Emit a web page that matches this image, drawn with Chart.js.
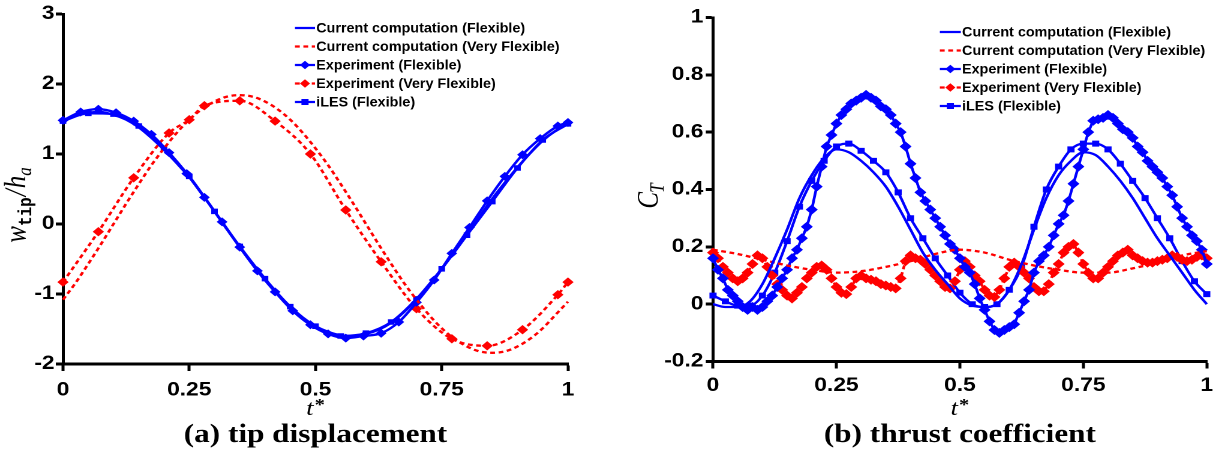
<!DOCTYPE html>
<html>
<head>
<meta charset="utf-8">
<script src="https://cdn.jsdelivr.net/npm/chart.js@4.4.1/dist/chart.umd.min.js"></script>
<style>
  html, body { margin: 0; padding: 0; background: #fff; }
  body { width: 1225px; height: 453px; position: relative; overflow: hidden; }
  #tipChart { position: absolute; left: 0; top: 0; }
  #thrustChart { position: absolute; left: 612px; top: 0; }
</style>
</head>
<body>
<!-- the original figure is stretched sideways, so each chart is drawn narrow and widened by css -->
<canvas id="tipChart" width="510" height="453" style="width:612px;height:453px"></canvas>
<canvas id="thrustChart" width="511" height="453" style="width:613px;height:453px"></canvas>
<script>
///////////////////////////////////////////////////////////
// DATA

const legendLabels = [
  "Current computation (Flexible)",
  "Current computation (Very Flexible)",
  "Experiment (Flexible)",
  "Experiment (Very Flexible)",
  "iLES (Flexible)",
];

const xTickValues = [0, 0.25, 0.5, 0.75, 1];
const xTickLabels = ["0", "0.25", "0.5", "0.75", "1"];
const tipTickValues = [-2, -1, 0, 1, 2, 3];
const tipTickLabels = ["-2", "-1", "0", "1", "2", "3"];
const thrustTickValues = [-0.2, 0, 0.2, 0.4, 0.6, 0.8, 1];
const thrustTickLabels = ["-0.2", "0", "0.2", "0.4", "0.6", "0.8", "1"];

// t* grids
const tComp = [0, 0.025, 0.05, 0.075, 0.1, 0.125, 0.15, 0.175, 0.2, 0.225, 0.25, 0.275, 0.3, 0.325,
  0.35, 0.375, 0.4, 0.425, 0.45, 0.475, 0.5, 0.525, 0.55, 0.575, 0.6, 0.625, 0.65, 0.675, 0.7,
  0.725, 0.75, 0.775, 0.8, 0.825, 0.85, 0.875, 0.9, 0.925, 0.95, 0.975, 1];
const tCoarse = [0, 0.05, 0.1, 0.15, 0.2, 0.25, 0.3, 0.35, 0.4, 0.45, 0.5, 0.55, 0.6, 0.65, 0.7,
  0.75, 0.8, 0.85, 0.9, 0.95, 1];
const tExpFlexTip = [0, 0.035, 0.07, 0.105, 0.14, 0.175, 0.21, 0.245, 0.28, 0.315, 0.35, 0.385,
  0.42, 0.455, 0.49, 0.525, 0.56, 0.595, 0.63, 0.665, 0.7, 0.735, 0.77, 0.805, 0.84, 0.875, 0.91,
  0.945, 0.98, 1];
const tExpVfTip = [0, 0.07, 0.14, 0.21, 0.25, 0.28, 0.35, 0.42, 0.49, 0.56, 0.63, 0.7, 0.77, 0.84,
  0.91, 0.98, 1];
const tExp = [0, 0.01, 0.02, 0.03, 0.04, 0.05, 0.06, 0.07, 0.08, 0.09, 0.1, 0.11, 0.12, 0.13, 0.14,
  0.15, 0.16, 0.17, 0.18, 0.19, 0.2, 0.21, 0.22, 0.23, 0.24, 0.25, 0.26, 0.27, 0.28, 0.29, 0.3,
  0.31, 0.32, 0.33, 0.34, 0.35, 0.36, 0.37, 0.38, 0.39, 0.4, 0.41, 0.42, 0.43, 0.44, 0.45, 0.46,
  0.47, 0.48, 0.49, 0.5, 0.51, 0.52, 0.53, 0.54, 0.55, 0.56, 0.57, 0.58, 0.59, 0.6, 0.61, 0.62,
  0.63, 0.64, 0.65, 0.66, 0.67, 0.68, 0.69, 0.7, 0.71, 0.72, 0.73, 0.74, 0.75, 0.76, 0.77, 0.78,
  0.79, 0.8, 0.81, 0.82, 0.83, 0.84, 0.85, 0.86, 0.87, 0.88, 0.89, 0.9, 0.91, 0.92, 0.93, 0.94,
  0.95, 0.96, 0.97, 0.98, 0.99, 1];

// (a) tip displacement w_tip/h_a
const tipCompFlex = [1.47, 1.55, 1.59, 1.6, 1.56, 1.49, 1.38, 1.23, 1.06, 0.87, 0.67, 0.43, 0.18,
  -0.08, -0.33, -0.57, -0.8, -1.0, -1.18, -1.34, -1.46, -1.54, -1.59, -1.6, -1.57, -1.51, -1.41,
  -1.26, -1.08, -0.87, -0.64, -0.39, -0.14, 0.11, 0.36, 0.59, 0.81, 1.01, 1.19, 1.33, 1.44];
const tipCompVf = [-1.08, -0.84, -0.57, -0.29, 0.0, 0.29, 0.57, 0.84, 1.08, 1.3, 1.49, 1.64, 1.75,
  1.82, 1.84, 1.82, 1.75, 1.64, 1.49, 1.3, 1.08, 0.84, 0.57, 0.29, 0.0, -0.29, -0.57, -0.84, -1.08,
  -1.3, -1.49, -1.64, -1.75, -1.82, -1.84, -1.82, -1.75, -1.64, -1.49, -1.3, -1.11];
const tipExpFlex = [1.48, 1.6, 1.64, 1.59, 1.47, 1.28, 1.02, 0.72, 0.38, 0.03, -0.33, -0.67, -0.97,
  -1.24, -1.44, -1.57, -1.63, -1.6, -1.56, -1.4, -1.12, -0.8, -0.42, -0.05, 0.33, 0.68, 0.99, 1.22,
  1.4, 1.45];
const tipExpVf = [-0.83, -0.11, 0.66, 1.3, 1.49, 1.69, 1.76, 1.47, 1.0, 0.2, -0.54, -1.21, -1.64,
  -1.74, -1.51, -1.01, -0.83];
const tipIles = [1.47, 1.58, 1.57, 1.4, 1.08, 0.68, 0.18, -0.32, -0.78, -1.18, -1.46, -1.6, -1.56,
  -1.4, -1.07, -0.64, -0.16, 0.32, 0.8, 1.2, 1.43];

// (b) thrust coefficient C_T
const thrustCompFlex = [0.0, -0.01, -0.01, 0.01, 0.07, 0.16, 0.26, 0.37, 0.45, 0.51, 0.54, 0.53,
  0.5, 0.46, 0.41, 0.34, 0.26, 0.18, 0.12, 0.07, 0.02, -0.005, -0.01, 0.0, 0.05, 0.14, 0.26, 0.37,
  0.45, 0.5, 0.53, 0.52, 0.48, 0.43, 0.37, 0.3, 0.23, 0.17, 0.11, 0.05, 0.0];
const thrustCompVf = [0.19, 0.175, 0.155, 0.135, 0.12, 0.11, 0.115, 0.13, 0.15, 0.175, 0.19, 0.18,
  0.155, 0.135, 0.12, 0.11, 0.11, 0.125, 0.145, 0.17, 0.185];
const thrustExpFlex = [0.16, 0.12, 0.09, 0.05, 0.03, 0.01, -0.01, -0.02, -0.01, -0.02, -0.01, 0.01,
  0.03, 0.06, 0.09, 0.12, 0.16, 0.19, 0.23, 0.27, 0.33, 0.41, 0.48, 0.55, 0.59, 0.63, 0.66, 0.68,
  0.7, 0.71, 0.72, 0.73, 0.72, 0.71, 0.69, 0.68, 0.66, 0.63, 0.6, 0.55, 0.49, 0.44, 0.39, 0.36,
  0.33, 0.3, 0.27, 0.24, 0.21, 0.19, 0.16, 0.13, 0.11, 0.07, 0.02, -0.02, -0.06, -0.09, -0.1,
  -0.09, -0.08, -0.07, -0.03, 0.01, 0.05, 0.11, 0.15, 0.17, 0.2, 0.24, 0.28, 0.31, 0.36, 0.42,
  0.48, 0.54, 0.6, 0.64, 0.645, 0.65, 0.66, 0.65, 0.63, 0.61, 0.6, 0.58, 0.55, 0.53, 0.5, 0.48,
  0.46, 0.44, 0.41, 0.38, 0.34, 0.3, 0.27, 0.24, 0.22, 0.19, 0.14];
const thrustExpVf = [0.18, 0.16, 0.13, 0.11, 0.09, 0.08, 0.09, 0.11, 0.14, 0.17, 0.16, 0.13, 0.1,
  0.07, 0.05, 0.03, 0.02, 0.04, 0.06, 0.09, 0.11, 0.13, 0.135, 0.12, 0.09, 0.06, 0.04, 0.035, 0.06,
  0.09, 0.1, 0.09, 0.085, 0.08, 0.07, 0.065, 0.06, 0.055, 0.09, 0.15, 0.17, 0.16, 0.155, 0.14,
  0.12, 0.1, 0.08, 0.06, 0.055, 0.08, 0.12, 0.15, 0.13, 0.1, 0.08, 0.05, 0.03, 0.025, 0.05, 0.09,
  0.13, 0.145, 0.13, 0.11, 0.09, 0.06, 0.045, 0.045, 0.07, 0.11, 0.14, 0.18, 0.2, 0.21, 0.18, 0.14,
  0.11, 0.09, 0.09, 0.11, 0.13, 0.15, 0.17, 0.18, 0.19, 0.17, 0.16, 0.15, 0.145, 0.145, 0.15,
  0.155, 0.16, 0.17, 0.165, 0.155, 0.15, 0.155, 0.165, 0.17, 0.16];
const thrustIles = [0.03, 0.01, -0.005, -0.005, 0.03, 0.11, 0.22, 0.34, 0.43, 0.5, 0.55, 0.56,
  0.535, 0.5, 0.46, 0.39, 0.3, 0.23, 0.16, 0.1, 0.04, 0.0, -0.01, 0.0, 0.05, 0.13, 0.27, 0.4, 0.48,
  0.54, 0.56, 0.56, 0.54, 0.49, 0.43, 0.37, 0.3, 0.23, 0.15, 0.08, 0.035];

///////////////////////////////////////////////////////////
// HELPERS

const BLUE = "#0000ff";
const RED = "#ff0000";
const tickFont = { family: "Liberation Sans", size: 19, weight: "bold" };

function pairs(ts, vs) {
  return ts.map((t, i) => ({ x: t, y: vs[i] }));
}

function series(label, ts, vs, color, dashed, style, radius, smooth) {
  return {
    label: label,
    data: pairs(ts, vs),
    borderColor: color,
    backgroundColor: color,
    borderWidth: 2.3,
    borderDash: dashed ? [4, 3] : [],
    pointStyle: style || "circle",
    pointRadius: radius || 0,
    pointBackgroundColor: color,
    pointBorderColor: color,
    pointBorderWidth: 1,
    tension: smooth ? 0.4 : 0,
    cubicInterpolationMode: smooth ? "monotone" : "default",
    clip: false,
  };
}

function drawPieces(ctx, pieces, x, y, rotate) {
  ctx.save();
  ctx.translate(x, y);
  if (rotate) ctx.rotate(-Math.PI / 2);
  let total = 0;
  pieces.forEach((p) => {
    ctx.font = p.font;
    p.w = ctx.measureText(p.text).width + (p.after || 0);
    total += p.w;
  });
  let px = -total / 2;
  ctx.textAlign = "left";
  ctx.textBaseline = "alphabetic";
  ctx.fillStyle = "#000";
  pieces.forEach((p) => {
    ctx.font = p.font;
    ctx.fillText(p.text, px, p.dy || 0);
    px += p.w;
  });
  ctx.restore();
}

// legend, axis titles and caption
const decorPlugin = {
  id: "decor",
  afterDraw(chart, args, opts) {
    const ctx = chart.ctx;
    const area = chart.chartArea;
    const cx = (area.left + area.right) / 2;
    const lg = opts.legend;

    chart.data.datasets.forEach((ds, i) => {
      const y = lg.y + i * lg.dy;
      ctx.save();
      ctx.strokeStyle = ds.borderColor;
      ctx.lineWidth = ds.borderWidth;
      ctx.setLineDash(ds.borderDash);
      ctx.beginPath();
      ctx.moveTo(lg.x, y);
      ctx.lineTo(lg.x + lg.len, y);
      ctx.stroke();
      ctx.setLineDash([]);
      if (ds.pointRadius > 0) {
        ctx.fillStyle = ds.pointBackgroundColor;
        ctx.strokeStyle = ds.pointBorderColor;
        ctx.lineWidth = 1;
        Chart.helpers.drawPoint(
          ctx,
          { pointStyle: ds.pointStyle, radius: lg.marker, borderWidth: 1, rotation: 0 },
          lg.x + lg.len / 2,
          y
        );
      }
      // legend lettering is narrow in the original, squeeze it a little
      ctx.translate(lg.x + lg.len + lg.gap, y + 0.5);
      ctx.scale(lg.squeeze, 1);
      ctx.fillStyle = "#000";
      ctx.font = lg.font;
      ctx.textAlign = "left";
      ctx.textBaseline = "middle";
      ctx.fillText(ds.label, 0, 0);
      ctx.restore();
    });

    drawPieces(ctx, opts.yTitle.pieces, opts.yTitle.x, opts.yTitle.y, true);
    drawPieces(ctx, [
      { text: "t", font: 'italic 22px "Liberation Serif"', after: 1 },
      { text: "*", font: 'bold 17px "Liberation Serif"', dy: -5 },
    ], cx, opts.xTitleY, false);

    ctx.save();
    ctx.fillStyle = "#000";
    ctx.font = 'bold 26px "Liberation Serif"';
    ctx.textAlign = "center";
    ctx.textBaseline = "alphabetic";
    ctx.fillText(opts.caption, cx, opts.captionY);
    ctx.restore();
  },
};

function makeChart(canvasId, cfg) {
  const ctx = document.getElementById(canvasId).getContext("2d");
  return new Chart(ctx, {
    type: "line",
    data: { datasets: cfg.datasets },
    plugins: [decorPlugin],
    options: {
      responsive: false,
      devicePixelRatio: 2,
      animation: false,
      events: [],
      layout: { padding: { left: 0, top: cfg.padTop, right: cfg.padRight, bottom: 0 } },
      scales: {
        x: {
          type: "linear",
          min: 0,
          max: 1,
          afterBuildTicks: (s) => {
            s.ticks = xTickValues.map((v) => ({ value: v }));
          },
          afterFit: (s) => {
            s.height = cfg.xAxisHeight;
          },
          ticks: {
            callback: (v) => xTickLabels[xTickValues.indexOf(v)],
            font: tickFont,
            color: "#000",
            padding: cfg.xTickPad,
            maxRotation: 0,
            autoSkip: false,
          },
          grid: {
            drawOnChartArea: false,
            drawTicks: true,
            tickLength: 7,
            tickColor: "#000",
            tickWidth: 2.5,
            color: "#000",
          },
          border: { display: true, color: "#000", width: 3 },
        },
        y: {
          type: "linear",
          min: cfg.yTicks[0],
          max: cfg.yTicks[cfg.yTicks.length - 1],
          afterBuildTicks: (s) => {
            s.ticks = cfg.yTicks.map((v) => ({ value: v }));
          },
          afterFit: (s) => {
            s.width = cfg.yAxisWidth;
          },
          ticks: {
            callback: (v) => cfg.yLabels[cfg.yTicks.indexOf(v)],
            font: tickFont,
            color: "#000",
            padding: cfg.yTickPad,
            autoSkip: false,
          },
          grid: {
            drawOnChartArea: false,
            drawTicks: true,
            tickLength: 6,
            tickColor: "#000",
            tickWidth: 3,
            color: "#000",
          },
          border: { display: true, color: "#000", width: 2.5 },
        },
      },
      plugins: {
        legend: { display: false },
        tooltip: { enabled: false },
        decor: {
          legend: cfg.legend,
          yTitle: cfg.yTitle,
          xTitleY: 415,
          caption: cfg.caption,
          captionY: 442,
        },
      },
    },
  });
}

///////////////////////////////////////////////////////////
// CHARTS

document.addEventListener("DOMContentLoaded", () => {
  makeChart("tipChart", {
    padTop: 14,
    padRight: 36.7,
    xAxisHeight: 89,
    yAxisWidth: 52.5,
    xTickPad: 8,
    yTickPad: 1,
    yTicks: tipTickValues,
    yLabels: tipTickLabels,
    caption: "(a) tip displacement",
    legend: {
      x: 245.8, len: 16.7, gap: 1, y: 28, dy: 18.5, marker: 3.5, squeeze: 0.88,
      font: 'bold 13.6px "Liberation Sans"',
    },
    yTitle: {
      x: 21,
      y: 205,
      pieces: [
        { text: "w", font: 'italic 25px "Liberation Serif"' },
        { text: "tip", font: 'bold 16px "Liberation Mono"', dy: 5, after: 1 },
        { text: "/", font: 'italic 25px "Liberation Serif"', after: 1 },
        { text: "h", font: 'italic 25px "Liberation Serif"' },
        { text: "a", font: 'italic 17px "Liberation Serif"', dy: 5 },
      ],
    },
    datasets: [
      series(legendLabels[0], tComp, tipCompFlex, BLUE, false, null, 0, true),
      series(legendLabels[1], tComp, tipCompVf, RED, true, null, 0, true),
      series(legendLabels[2], tExpFlexTip, tipExpFlex, BLUE, false, "rectRot", 3.8, true),
      series(legendLabels[3], tExpVfTip, tipExpVf, RED, true, "rectRot", 4, true),
      series(legendLabels[4], tCoarse, tipIles, BLUE, false, "rect", 3.2, true),
    ],
  });

  makeChart("thrustChart", {
    padTop: 17.5,
    padRight: 15.2,
    xAxisHeight: 91.5,
    yAxisWidth: 84.2,
    xTickPad: 6,
    yTickPad: 2,
    yTicks: thrustTickValues,
    yLabels: thrustTickLabels,
    caption: "(b) thrust coefficient",
    legend: {
      x: 273.3, len: 17.5, gap: 1, y: 32, dy: 18.5, marker: 3.5, squeeze: 0.88,
      font: 'bold 13.6px "Liberation Sans"',
    },
    yTitle: {
      x: 38,
      y: 196,
      pieces: [
        { text: "C", font: 'italic 25px "Liberation Serif"', after: -1 },
        { text: "T", font: 'italic 17px "Liberation Serif"', dy: 5 },
      ],
    },
    datasets: [
      series(legendLabels[0], tComp, thrustCompFlex, BLUE, false, null, 0, true),
      series(legendLabels[1], tCoarse, thrustCompVf, RED, true, null, 0, true),
      series(legendLabels[2], tExp, thrustExpFlex, BLUE, false, "rectRot", 4.3, false),
      series(legendLabels[3], tExp, thrustExpVf, RED, true, "rectRot", 4.3, false),
      series(legendLabels[4], tComp, thrustIles, BLUE, false, "rect", 3.5, true),
    ],
  });
});
</script>
</body>
</html>
